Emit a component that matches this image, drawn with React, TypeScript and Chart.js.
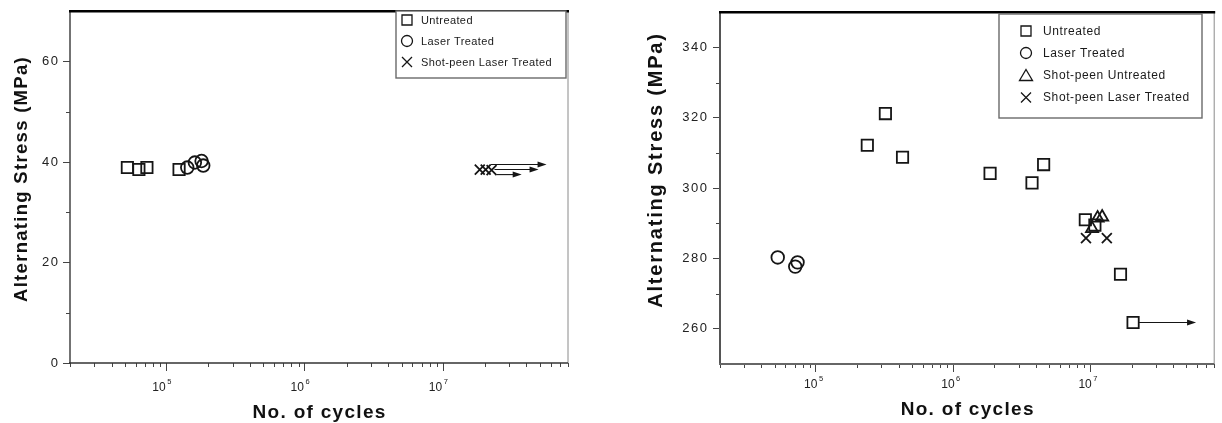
import React, { useEffect, useRef } from 'react';
import { Chart, registerables } from 'chart.js';

Chart.register(...registerables);

const FONT = '"Liberation Sans", Arial, Helvetica, sans-serif';
const INK = '#151515';

// ---------- Left panel data ----------
const leftUntreatedCycles = [5.2e4, 6.3e4, 7.2e4, 1.23e5];
const leftUntreatedStress = [38.9, 38.5, 38.9, 38.5];
const leftLaserCycles = [1.41e5, 1.6e5, 1.79e5, 1.84e5];
const leftLaserStress = [38.9, 39.9, 40.2, 39.3];
const leftShotLaserCycles = [1.84e7, 2.03e7, 2.24e7];
const leftShotLaserStress = [38.5, 38.5, 38.4];
const leftRunoutFrom = [2.2e7, 2.35e7, 2.45e7];
const leftRunoutTo = [5.6e7, 4.9e7, 3.7e7];
const leftRunoutStress = [39.5, 38.5, 37.5];
const leftYTickLabels = [0, 20, 40, 60];
const leftYMinorTicks = [10, 30, 50];
const leftLegendLabels = ['Untreated', 'Laser Treated', 'Shot-peen Laser Treated'];

// ---------- Right panel data ----------
const rightUntreatedCycles = [2.37e5, 3.21e5, 4.28e5, 1.86e6, 3.76e6, 4.57e6, 9.2e6, 1.08e7, 1.66e7, 2.05e7];
const rightUntreatedStress = [312.2, 321.2, 308.8, 304.2, 301.5, 306.7, 291.0, 289.5, 275.5, 261.8];
const rightLaserCycles = [5.27e4, 7.35e4, 7.07e4];
const rightLaserStress = [280.3, 278.9, 277.7];
const rightShotUntreatedCycles = [1.03e7, 1.13e7, 1.22e7];
const rightShotUntreatedStress = [288.5, 291.5, 291.8];
const rightShotLaserCycles = [9.3e6, 1.32e7];
const rightShotLaserStress = [285.8, 285.8];
const rightRunoutFrom = [2.05e7];
const rightRunoutTo = [5.9e7];
const rightRunoutStress = [261.8];
const rightYTickLabels = [260, 280, 300, 320, 340];
const rightYMinorTicks = [270, 290, 310, 330];
const rightLegendLabels = ['Untreated', 'Laser Treated', 'Shot-peen Untreated', 'Shot-peen Laser Treated'];

// ---------- Shared axis data ----------
const xMinCycles = 2e4;
const xMaxCycles = 8e7;
const xDecades = [1e5, 1e6, 1e7];
const xDecadeExponents = ['5', '6', '7'];
const xMinorDecades = [1e4, 1e5, 1e6, 1e7];
const xMinorMultipliers = [2, 3, 4, 5, 6, 7, 8, 9];
const xTitle = 'No. of cycles';
const yTitle = 'Alternating Stress (MPa)';

type Sym = 'rect' | 'circle' | 'triangle' | 'crossRot';
const symRadius: Record<string, number> = { rect: 8, circle: 6.3, triangle: 7, crossRot: 7 };

type Series = { label: string; xs: number[]; ys: number[]; sym: Sym };

type Spec = {
  left: number; width: number;
  yMin: number; yMax: number; yTicks: number[]; yMinor: number[];
  padTop: number; padRight: number; yAxisWidth: number; xAxisHeight: number;
  yTickPad: number; yTickSpacing: number;
  series: Series[];
  runFrom: number[]; runTo: number[]; runStress: number[]; runOffset: number;
  legend: { x: number; y: number; w: number; h: number; rows: number[]; symX: number; textX: number; font: number; spacing: number };
  yTitle: { cx: number; cy: number; font: number; spacing: number };
  xTitleCy: number;
  xLabel: { baseline: number; shift: number };
  frame: { top: [string, number]; right: [string, number]; axisY: [string, number]; axisX: [string, number] };
};

const leftSpec: Spec = {
  left: 0, width: 600,
  yMin: 0, yMax: 70, yTicks: leftYTickLabels, yMinor: leftYMinorTicks,
  padTop: 7, padRight: 32, yAxisWidth: 70, xAxisHeight: 60,
  yTickPad: 3.5, yTickSpacing: 1.5,
  series: [
    { label: leftLegendLabels[0], xs: leftUntreatedCycles, ys: leftUntreatedStress, sym: 'rect' },
    { label: leftLegendLabels[1], xs: leftLaserCycles, ys: leftLaserStress, sym: 'circle' },
    { label: leftLegendLabels[2], xs: leftShotLaserCycles, ys: leftShotLaserStress, sym: 'crossRot' },
  ],
  runFrom: leftRunoutFrom, runTo: leftRunoutTo, runStress: leftRunoutStress, runOffset: 0,
  legend: { x: 396, y: 11, w: 170, h: 67, rows: [20, 41, 62], symX: 407, textX: 421, font: 11, spacing: 0.4 },
  yTitle: { cx: 22, cy: 179, font: 18.5, spacing: 1.3 },
  xTitleCy: 412.5,
  xLabel: { baseline: 391, shift: -1 },
  frame: { top: ['#000', 2.5], right: ['#8a8a8a', 1], axisY: ['#444', 1.5], axisX: ['#333', 1.5] },
};

const rightSpec: Spec = {
  left: 600, width: 624,
  yMin: 250, yMax: 350, yTicks: rightYTickLabels, yMinor: rightYMinorTicks,
  padTop: 9, padRight: 1, yAxisWidth: 120, xAxisHeight: 59,
  yTickPad: 4.5, yTickSpacing: 1.5,
  series: [
    { label: rightLegendLabels[0], xs: rightUntreatedCycles, ys: rightUntreatedStress, sym: 'rect' },
    { label: rightLegendLabels[1], xs: rightLaserCycles, ys: rightLaserStress, sym: 'circle' },
    { label: rightLegendLabels[2], xs: rightShotUntreatedCycles, ys: rightShotUntreatedStress, sym: 'triangle' },
    { label: rightLegendLabels[3], xs: rightShotLaserCycles, ys: rightShotLaserStress, sym: 'crossRot' },
  ],
  runFrom: rightRunoutFrom, runTo: rightRunoutTo, runStress: rightRunoutStress, runOffset: 6,
  legend: { x: 399, y: 14, w: 203, h: 104, rows: [31, 53, 75.5, 97.5], symX: 426, textX: 443, font: 12, spacing: 0.6 },
  yTitle: { cx: 56, cy: 170, font: 20, spacing: 1.8 },
  xTitleCy: 410,
  xLabel: { baseline: 388, shift: 1.5 },
  frame: { top: ['#000', 2.5], right: ['#8a8a8a', 1], axisY: ['#555', 2], axisX: ['#666', 2] },
};

function pts(xs: number[], ys: number[]) {
  return xs.map((x, i) => ({ x, y: ys[i] }));
}

function seg(ctx: CanvasRenderingContext2D, x1: number, y1: number, x2: number, y2: number, style: [string, number]) {
  ctx.save();
  ctx.strokeStyle = style[0];
  ctx.lineWidth = style[1];
  ctx.beginPath();
  ctx.moveTo(x1, y1);
  ctx.lineTo(x2, y2);
  ctx.stroke();
  ctx.restore();
}

function drawSymbol(ctx: CanvasRenderingContext2D, sym: Sym, x: number, y: number) {
  ctx.beginPath();
  if (sym === 'rect') ctx.rect(x - 5, y - 5, 10, 10);
  else if (sym === 'circle') ctx.arc(x, y, 5.5, 0, Math.PI * 2);
  else if (sym === 'triangle') {
    ctx.moveTo(x, y - 6);
    ctx.lineTo(x + 6.5, y + 5);
    ctx.lineTo(x - 6.5, y + 5);
    ctx.closePath();
  } else {
    ctx.moveTo(x - 5, y - 5);
    ctx.lineTo(x + 5, y + 5);
    ctx.moveTo(x + 5, y - 5);
    ctx.lineTo(x - 5, y + 5);
  }
  ctx.stroke();
}

function decorPlugin(spec: Spec) {
  return {
    id: 'decor',
    beforeDraw(chart: any) {
      (chart.ctx as any).letterSpacing = spec.yTickSpacing + 'px';
    },
    beforeDatasetsDraw(chart: any) {
      const ctx: CanvasRenderingContext2D = chart.ctx;
      (ctx as any).letterSpacing = '0px';
      const { left, right, top, bottom } = chart.chartArea;
      const xs = chart.scales.x;
      const ys = chart.scales.y;
      // minor ticks
      ctx.save();
      ctx.strokeStyle = '#444';
      ctx.lineWidth = 1;
      ctx.beginPath();
      spec.yMinor.forEach((v) => {
        const py = Math.round(ys.getPixelForValue(v)) + 0.5;
        ctx.moveTo(left - 4, py);
        ctx.lineTo(left, py);
      });
      xMinorDecades.forEach((d) => {
        xMinorMultipliers.forEach((m) => {
          const v = d * m;
          if (v < xMinCycles || v > xMaxCycles) return;
          const px = Math.round(xs.getPixelForValue(v)) + 0.5;
          ctx.moveTo(px, bottom);
          ctx.lineTo(px, bottom + 4);
        });
      });
      ctx.stroke();
      ctx.restore();
      // frame
      seg(ctx, right, top, right, bottom, spec.frame.right);
      seg(ctx, left, top, left, bottom, spec.frame.axisY);
      seg(ctx, left - 1, bottom, right, bottom, spec.frame.axisX);
      seg(ctx, left - 1, top, right + 1, top, spec.frame.top);
    },
    afterDraw(chart: any) {
      const ctx: CanvasRenderingContext2D = chart.ctx;
      const { left, right } = chart.chartArea;
      const xs = chart.scales.x;
      const ys = chart.scales.y;
      ctx.save();
      // run-out arrows
      ctx.strokeStyle = INK;
      ctx.fillStyle = INK;
      ctx.lineWidth = 1.1;
      spec.runFrom.forEach((from, i) => {
        const x1 = xs.getPixelForValue(from) + spec.runOffset;
        const x2 = xs.getPixelForValue(spec.runTo[i]);
        const y = ys.getPixelForValue(spec.runStress[i]);
        ctx.beginPath();
        ctx.moveTo(x1, y);
        ctx.lineTo(x2 - 6, y);
        ctx.stroke();
        ctx.beginPath();
        ctx.moveTo(x2, y);
        ctx.lineTo(x2 - 9, y - 3);
        ctx.lineTo(x2 - 9, y + 3);
        ctx.closePath();
        ctx.fill();
      });
      // x tick labels (10^n)
      ctx.fillStyle = '#222';
      ctx.textBaseline = 'alphabetic';
      xDecades.forEach((v, i) => {
        const px = xs.getPixelForValue(v) + spec.xLabel.shift;
        ctx.font = `12px ${FONT}`;
        ctx.textAlign = 'right';
        ctx.fillText('10', px, spec.xLabel.baseline);
        ctx.font = `7.5px ${FONT}`;
        ctx.textAlign = 'left';
        ctx.fillText(xDecadeExponents[i], px + 1.5, spec.xLabel.baseline - 7.5);
      });
      // axis titles
      ctx.fillStyle = '#111';
      ctx.textAlign = 'center';
      ctx.textBaseline = 'middle';
      ctx.font = `bold 19px ${FONT}`;
      (ctx as any).letterSpacing = '1.3px';
      ctx.fillText(xTitle, (left + right) / 2 + 0.6, spec.xTitleCy);
      ctx.save();
      ctx.translate(spec.yTitle.cx, spec.yTitle.cy);
      ctx.rotate(-Math.PI / 2);
      ctx.font = `bold ${spec.yTitle.font}px ${FONT}`;
      (ctx as any).letterSpacing = spec.yTitle.spacing + 'px';
      ctx.fillText(yTitle, 0, 0);
      ctx.restore();
      // legend
      const L = spec.legend;
      ctx.fillStyle = '#fff';
      ctx.fillRect(L.x, L.y, L.w, L.h);
      ctx.strokeStyle = '#6a6a6a';
      ctx.lineWidth = 1.4;
      ctx.strokeRect(L.x, L.y, L.w, L.h);
      ctx.strokeStyle = INK;
      ctx.lineWidth = 1.3;
      spec.series.forEach((s, i) => drawSymbol(ctx, s.sym, L.symX, L.rows[i]));
      ctx.fillStyle = '#1a1a1a';
      ctx.textAlign = 'left';
      ctx.textBaseline = 'middle';
      ctx.font = `${L.font}px ${FONT}`;
      (ctx as any).letterSpacing = L.spacing + 'px';
      spec.series.forEach((s, i) => ctx.fillText(s.label, L.textX, L.rows[i] + 0.5));
      (ctx as any).letterSpacing = '0px';
      ctx.restore();
    },
  };
}

function Panel({ spec }: { spec: Spec }) {
  const ref = useRef<HTMLCanvasElement>(null);
  useEffect(() => {
    const canvas = ref.current;
    if (!canvas) return;
    const chart = new Chart(canvas, {
      type: 'scatter',
      data: {
        datasets: spec.series.map((s) => ({
          label: s.label,
          data: pts(s.xs, s.ys),
          pointStyle: s.sym,
          pointRadius: symRadius[s.sym],
          pointBorderWidth: 1.8,
          pointBorderColor: INK,
          pointBackgroundColor: 'rgba(0,0,0,0)',
          borderColor: INK,
          backgroundColor: 'rgba(0,0,0,0)',
          showLine: false,
          clip: false,
        })),
      },
      options: {
        animation: false,
        responsive: false,
        maintainAspectRatio: false,
        events: [],
        layout: { padding: { top: spec.padTop, right: spec.padRight, left: 0, bottom: 0 } },
        plugins: { legend: { display: false }, tooltip: { enabled: false }, title: { display: false } },
        scales: {
          x: {
            type: 'logarithmic',
            position: 'bottom',
            min: xMinCycles,
            max: xMaxCycles,
            afterFit: (s: any) => { s.height = spec.xAxisHeight; },
            afterBuildTicks: (s: any) => { s.ticks = xDecades.map((v) => ({ value: v })); },
            ticks: { display: false },
            grid: { display: true, drawOnChartArea: false, drawTicks: true, tickLength: 8, color: '#444', lineWidth: 1 },
            border: { display: false },
          },
          y: {
            type: 'linear',
            position: 'left',
            min: spec.yMin,
            max: spec.yMax,
            afterFit: (s: any) => { s.width = spec.yAxisWidth; },
            afterBuildTicks: (s: any) => { s.ticks = spec.yTicks.map((v) => ({ value: v })); },
            ticks: {
              display: true,
              color: '#222',
              font: { family: FONT, size: 13 },
              padding: spec.yTickPad,
              callback: (v: any) => String(v),
            },
            grid: { display: true, drawOnChartArea: false, drawTicks: true, tickLength: 7, color: '#444', lineWidth: 1 },
            border: { display: false },
          },
        },
      } as any,
      plugins: [decorPlugin(spec) as any],
    });
    return () => chart.destroy();
  }, [spec]);
  return (
    <canvas
      ref={ref}
      width={spec.width}
      height={423}
      style={{ position: 'absolute', left: spec.left, top: 0, width: spec.width, height: 423 }}
    />
  );
}

export default function App() {
  return (
    <div style={{ position: 'fixed', left: 0, top: 0, width: 1222, height: 423, overflow: 'hidden', background: '#fff' }}>
      <Panel spec={leftSpec} />
      <Panel spec={rightSpec} />
    </div>
  );
}
